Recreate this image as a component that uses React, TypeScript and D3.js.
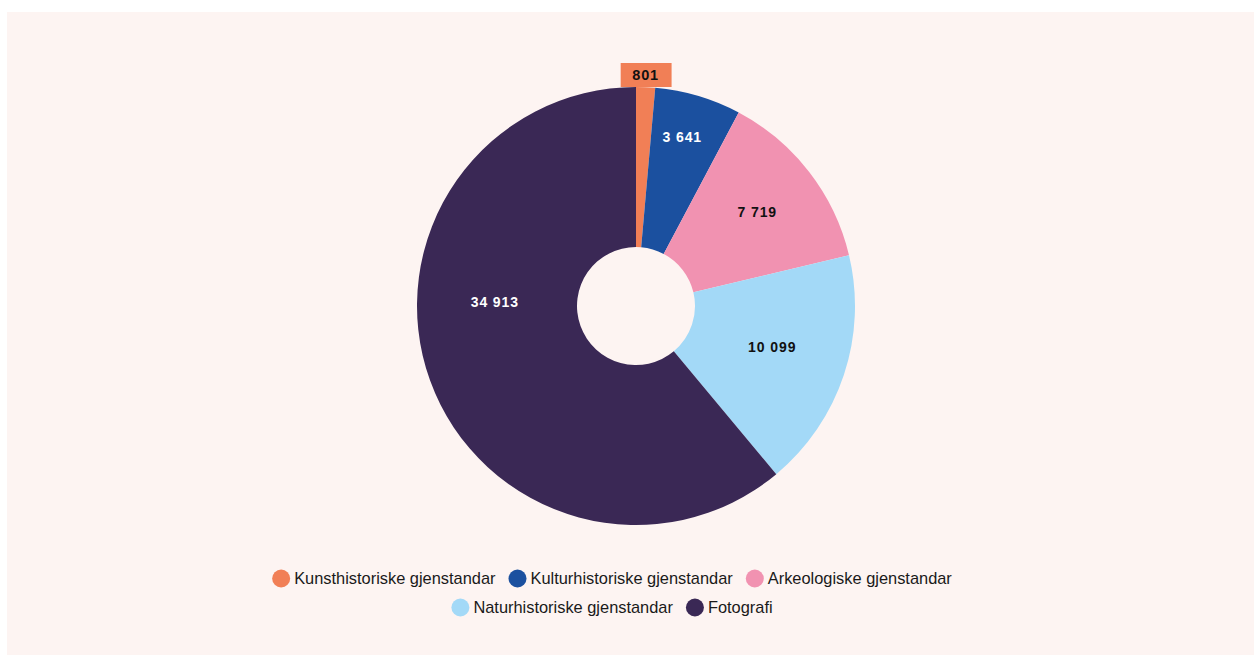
import React, { useEffect, useRef } from 'react';
import * as d3 from 'd3';

const categories = [
  'Kunsthistoriske gjenstandar',
  'Kulturhistoriske gjenstandar',
  'Arkeologiske gjenstandar',
  'Naturhistoriske gjenstandar',
  'Fotografi',
];
const values = [801, 3641, 7719, 10099, 34913];
const colors = ['#f17f56', '#1b509f', '#f192b1', '#a3d9f7', '#3a2855'];
const labelColors = ['#111111', '#ffffff', '#111111', '#111111', '#ffffff'];
// label distance from centre (fraction of outer radius) and angle shift (deg)
const labelRadiusFrac = [1.0, 0.8, 0.7, 0.65, 0.645];
const labelAngleShift = [0, -1.2, 0, -1.5, 21.6];
const insideLabel = [false, true, true, true, true];

const W = 1254;
const H = 655;

export default function App() {
  const ref = useRef<SVGSVGElement | null>(null);

  useEffect(() => {
    const svg = d3.select(ref.current);
    svg.selectAll('*').remove();

    svg.append('rect')
      .attr('x', 7).attr('y', 12)
      .attr('width', W - 7).attr('height', H - 12)
      .attr('fill', '#fdf4f2');

    const cx = 636, cy = 306, R = 219, r0 = 59;
    const pie = d3.pie<number>().sort(null).value(d => d).startAngle(0).endAngle(Math.PI * 2);
    const arcs = pie(values);
    const arc = d3.arc<d3.PieArcDatum<number>>().innerRadius(r0).outerRadius(R);

    const g = svg.append('g').attr('transform', `translate(${cx},${cy})`);
    g.selectAll('path.slice')
      .data(arcs)
      .join('path')
      .attr('class', 'slice')
      .attr('d', d => arc(d) as string)
      .attr('fill', (d, i) => colors[i]);

    const fmt = (v: number) => d3.format(',')(v).replace(/,/g, ' ');
    const fontFamily = '"Liberation Sans", Arial, Helvetica, sans-serif';

    arcs.forEach((a, i) => {
      const mid = (a.startAngle + a.endAngle) / 2 + (labelAngleShift[i] * Math.PI) / 180;
      const rr = R * labelRadiusFrac[i];
      const x = Math.sin(mid) * rr;
      const y = -Math.cos(mid) * rr;
      if (insideLabel[i]) {
        g.append('text')
          .attr('x', x).attr('y', y)
          .attr('text-anchor', 'middle')
          .attr('dy', '0.36em')
          .attr('font-family', fontFamily)
          .attr('font-size', 14)
          .attr('font-weight', 'bold')
          .attr('letter-spacing', 0.9)
          .attr('fill', labelColors[i])
          .text(fmt(values[i]));
      } else {
        const t = g.append('text')
          .attr('x', x).attr('y', -R - 12)
          .attr('text-anchor', 'middle')
          .attr('dy', '0.36em')
          .attr('font-family', fontFamily)
          .attr('font-size', 14.5)
          .attr('font-weight', 'bold')
          .attr('letter-spacing', 0.9)
          .attr('fill', labelColors[i])
          .text(fmt(values[i]));
        const tw = (t.node() as SVGTextElement).getComputedTextLength();
        const bw = tw + 24;
        g.insert('rect', 'text')
          .attr('x', x - bw / 2 + 0.5)
          .attr('y', -R - 24)
          .attr('width', bw)
          .attr('height', 24)
          .attr('fill', colors[i]);
      }
    });

    // Legend
    const legend = svg.append('g');
    const rows: number[][] = [[0, 1, 2], [3, 4]];
    const rowY = [578.5, 607.5];
    const legendCenter = 612;
    const symR = 9;
    const textGap = 22;
    const itemGap = 13;
    rows.forEach((row, ri) => {
      const items = row.map(i => {
        const t = legend.append('text')
          .attr('font-family', fontFamily)
          .attr('font-size', 16.4)
          .attr('fill', '#1a1a1a')
          .attr('dy', '0.35em')
          .text(categories[i]);
        const w = (t.node() as SVGTextElement).getComputedTextLength();
        return { i, t, w };
      });
      const total = items.reduce((s, it) => s + textGap + it.w + itemGap, 0) - itemGap;
      let x = legendCenter - total / 2;
      items.forEach(it => {
        legend.append('circle')
          .attr('cx', x + symR).attr('cy', rowY[ri])
          .attr('r', symR)
          .attr('fill', colors[it.i]);
        it.t.attr('x', x + textGap).attr('y', rowY[ri]);
        x += textGap + it.w + itemGap;
      });
    });
  }, []);

  return (
    <div style={{ position: 'absolute', left: 0, top: 0 }}>
      <svg ref={ref} width={W} height={H} style={{ display: 'block' }} />
    </div>
  );
}
